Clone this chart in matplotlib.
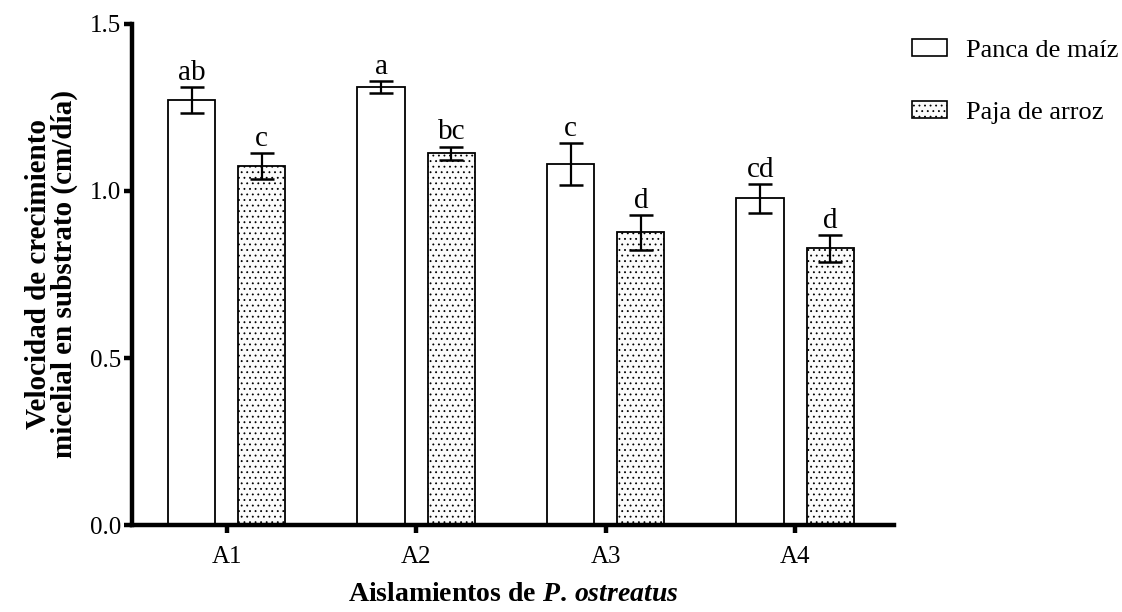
import numpy as np
import matplotlib
matplotlib.use("Agg")
from matplotlib import pyplot as plt
from matplotlib.patches import Patch

plt.rcParams['font.family'] = ['Liberation Serif', 'DejaVu Serif']
plt.rcParams['mathtext.fontset'] = 'custom'
plt.rcParams['mathtext.rm'] = 'Liberation Serif:bold'
plt.rcParams['mathtext.it'] = 'Liberation Serif:italic:bold'
plt.rcParams['hatch.color'] = '#c8c8c8'
plt.rcParams['hatch.linewidth'] = 0.6

# ---data---
isolates = ['A1', 'A2', 'A3', 'A4']
panca = [1.272, 1.312, 1.080, 0.978]
panca_err = [0.038, 0.018, 0.063, 0.044]
panca_letters = ['ab', 'a', 'c', 'cd']
paja = [1.075, 1.113, 0.876, 0.828]
paja_err = [0.040, 0.020, 0.053, 0.040]
paja_letters = ['c', 'bc', 'd', 'd']

fig = plt.figure(figsize=(11.22, 6.12), dpi=100)
ax = fig.add_axes([0.1176, 0.142, 0.679, 0.819])

x = np.arange(len(isolates))
w = 0.25
off = 0.185

ax.bar(x - off, panca, w, color='white', edgecolor='black', linewidth=1.3, zorder=2)
ax.bar(x + off, paja, w, color='#fbfbfb', edgecolor='black', linewidth=1.3,
       hatch='...', zorder=2)
ax.errorbar(x - off, panca, yerr=panca_err, fmt='none', ecolor='black',
            elinewidth=1.6, capsize=8.3, capthick=1.8, zorder=3)
ax.errorbar(x + off, paja, yerr=paja_err, fmt='none', ecolor='black',
            elinewidth=1.6, capsize=8.3, capthick=1.8, zorder=3)

for xi, v, e, lab in zip(x - off, panca, panca_err, panca_letters):
    ax.text(xi, v + e + 0.003, lab, ha='center', va='bottom', fontsize=21)
for xi, v, e, lab in zip(x + off, paja, paja_err, paja_letters):
    ax.text(xi, v + e + 0.003, lab, ha='center', va='bottom', fontsize=21)

ax.set_xlim(-0.5, 3.52)
ax.set_ylim(0, 1.5)
ax.set_yticks([0.0, 0.5, 1.0, 1.5])
ax.set_yticklabels(['0.0', '0.5', '1.0', '1.5'])
ax.set_xticks(x)
ax.set_xticklabels(isolates)

for s in ['top', 'right']:
    ax.spines[s].set_visible(False)
for s in ['left', 'bottom']:
    ax.spines[s].set_linewidth(3.2)
ax.tick_params(axis='both', width=3.2, length=6, labelsize=18, direction='out')
ax.tick_params(axis='x', pad=9)
ax.tick_params(axis='y', pad=2)

ax.set_ylabel('Velocidad de crecimiento\nmicelial en substrato (cm/día)',
              fontsize=21, fontweight='bold', labelpad=8, linespacing=0.95)
ax.set_xlabel(r'Aislamientos de $\mathit{P.\,ostreatus}$', fontsize=20,
              fontweight='bold', labelpad=10)

handles = [Patch(facecolor='white', edgecolor='black', linewidth=1.2),
           Patch(facecolor='#fbfbfb', edgecolor='black', linewidth=1.2, hatch='...')]
fig.legend(handles, ['Panca de maíz', 'Paja de arroz'], loc='upper left',
           bbox_to_anchor=(0.8035, 0.954), frameon=False, fontsize=19,
           handlelength=1.33, handleheight=0.65, handletextpad=0.72,
           labelspacing=1.47, borderaxespad=0)

fig.savefig('out.png', dpi=100)
